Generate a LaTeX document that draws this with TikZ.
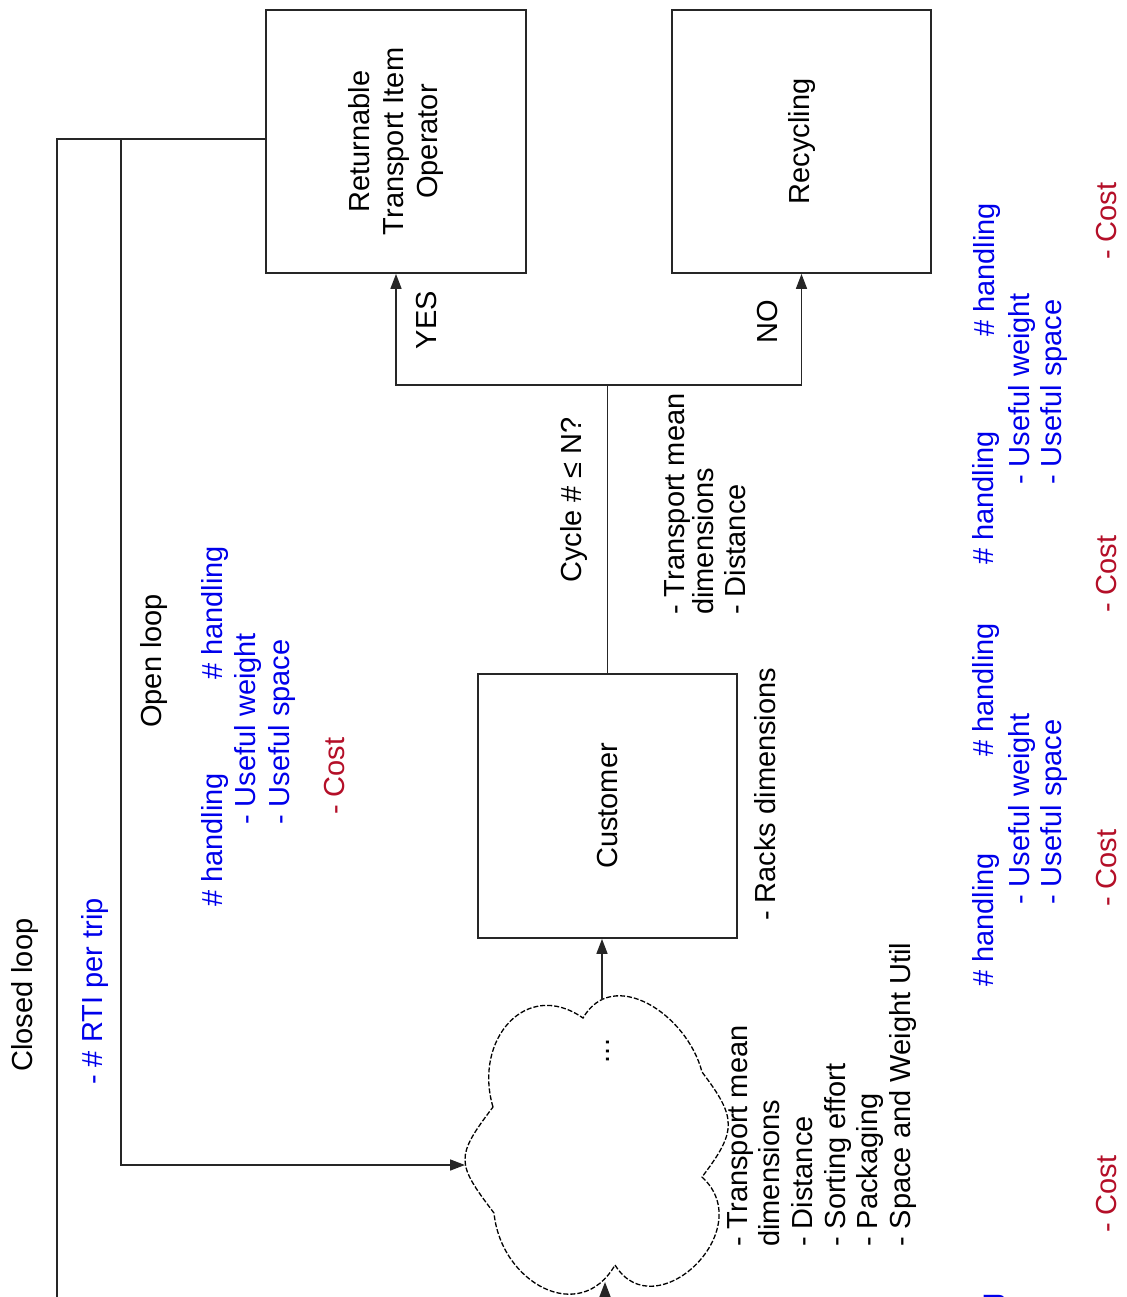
\documentclass[tikz,border=0pt]{standalone}
\usepackage{fontspec}
\setmainfont{Liberation Sans}
\usetikzlibrary{arrows.meta}
\definecolor{cblue}{RGB}{0,0,235}
\definecolor{cred}{RGB}{180,15,40}
\begin{document}
\begin{tikzpicture}[x=1pt,y=1pt,
  every node/.style={font=\fontsize{29}{34}\selectfont},
  txt/.style={rotate=90, anchor=west, inner sep=0pt, text height=20.5pt, text depth=6pt},
  bluetxt/.style={txt, text=cblue},
  redtxt/.style={txt, text=cred},
  box/.style={draw=black!85, line width=1.8pt, inner sep=0pt},
  boxtext/.style={rotate=90, align=center, inner sep=0pt},
  conn/.style={line width=1.6pt, draw=black!85},
  arr/.style={conn, -{Triangle[length=15pt,width=11pt]}},
  cloudline/.style={line width=1.3pt, dash pattern=on 5pt off 2pt}]
\path[use as bounding box] (0,0) rectangle (1126,-1297);
\clip (0,0) rectangle (1126,-1297);

% boxes
\node[box, minimum width=260pt, minimum height=263pt] (rti) at (396,-141.5) {};
\node[boxtext] (rtit) at (rti.center) {Returnable\\Transport Item\\Operator};
\node[box, minimum width=259pt, minimum height=263pt] (rec) at (801.5,-141.5) {};
\node[boxtext] (rect) at (rec.center) {Recycling};
\node[box, minimum width=259pt, minimum height=264pt] (cust) at (607.5,-806) {};
\node[boxtext] (custt) at (cust.center) {Customer};

% cloud
\draw[cloudline] (493,-1107) .. controls (473,-1040) and (526,-978) .. (583,-1018)
 .. controls (613,-966) and (687,-1014) .. (702,-1072)
 .. controls (737,-1118) and (737,-1131) .. (702,-1177)
 .. controls (760,-1230) and (655,-1330) .. (615,-1265)
 .. controls (580,-1326) and (501,-1283) .. (494,-1213)
 .. controls (456,-1163) and (455,-1157) .. (493,-1107) -- cycle;
\node[rotate=90, anchor=base, inner sep=0pt] (dots) at (609,-1051) {...};
\coordinate (cloudW) at (465,-1165);
\coordinate (cloudN) at (602,-1000);
\coordinate (cloudS) at (605,-1282);
\coordinate (belowS) at (605,-1340);

% loops
\coordinate (cl) at (57,-139);
\coordinate (clend) at (57,-1310);
\coordinate (ol) at (121,-139);
\coordinate (olc) at (121,-1165);
\draw[conn] (rti.west |- cl) -- (cl) -- (clend);
\draw[arr] (ol) -- (olc) -- (cloudW);
\draw[arr] (cloudN) -- (cloudN |- cust.south);
\draw[arr] (belowS) -- (cloudS);

% decision
\coordinate (split) at (cust.north |- 0,-385);
\draw[conn] (cust.north) -- (split);
\draw[arr] (split) -| (rti.south);
\draw[arr] (split) -| (rec.south);
\node[rotate=90, inner sep=0pt] (yes) at (427,-320) {YES};
\node[rotate=90, inner sep=0pt] (no) at (768,-322) {NO};

% black texts
\node[txt] (closed) at (25,-1072) {Closed loop};
\node[txt] (open) at (154,-728) {Open loop};
\node[txt] (cycle) at (574,-583) {Cycle \# ≤ N?};
\node[txt] (tm1) at (677,-615) {- Transport mean};
\node[txt] (tm2) at (706,-615) {dimensions};
\node[txt] (tm3) at (738,-615) {- Distance};
\node[txt] (racks) at (768,-921) {- Racks dimensions};
\node[txt] (c1) at (740,-1247) {- Transport mean};
\node[txt] (c2) at (772,-1247) {dimensions};
\node[txt] (c3) at (805,-1247) {- Distance};
\node[txt] (c4) at (838,-1247) {- Sorting effort};
\node[txt] (c5) at (870,-1247) {- Packaging};
\node[txt] (c6) at (903,-1247) {- Space and Weight Util};

% blue texts
\node[bluetxt] (rti trip) at (95,-1085) {- \# RTI per trip};
\node[bluetxt] (g1a) at (215,-907) {\# handling};
\node[bluetxt] (g1b) at (248,-825) {- Useful weight};
\node[bluetxt] (g1c) at (282,-825) {- Useful space};
\node[bluetxt] (g1d) at (215,-680) {\# handling};
\node[bluetxt] (g2a) at (986,-987) {\# handling};
\node[bluetxt] (g2b) at (1022,-905) {- Useful weight};
\node[bluetxt] (g2c) at (1054,-905) {- Useful space};
\node[bluetxt] (g2d) at (986,-757) {\# handling};
\node[bluetxt] (g3a) at (986,-565) {\# handling};
\node[bluetxt] (g3b) at (1022,-485) {- Useful weight};
\node[bluetxt] (g3c) at (1054,-485) {- Useful space};
\node[bluetxt] (g3d) at (987,-337) {\# handling};
\node[bluetxt] (g0a) at (992,-1427) {\# handling};

% red texts
\node[redtxt] (cost1) at (337,-815) {- Cost};
\node[redtxt] (cost2) at (1109,-1233) {- Cost};
\node[redtxt] (cost3) at (1109,-907) {- Cost};
\node[redtxt] (cost4) at (1109,-613) {- Cost};
\node[redtxt] (cost5) at (1109,-260) {- Cost};
\end{tikzpicture}
\end{document}
